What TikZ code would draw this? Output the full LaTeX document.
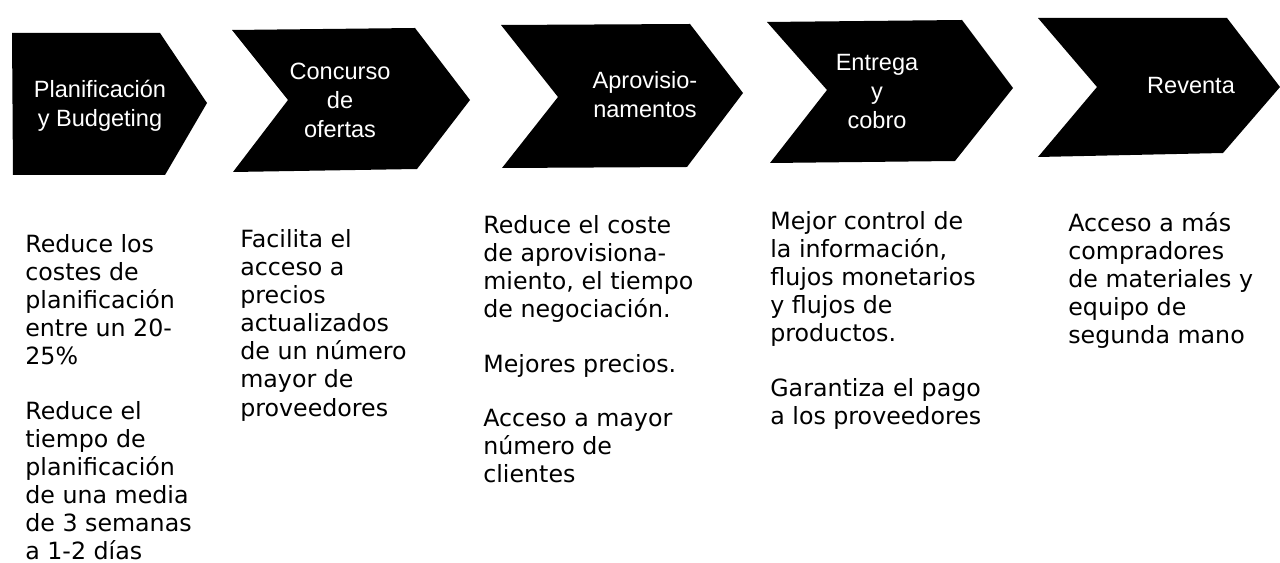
\documentclass[tikz,border=0pt]{standalone}
\usepackage{fontspec}
\setmainfont{DejaVu Sans}
\newfontfamily\chevfont{Liberation Sans}
\usepackage{tikz}
\usetikzlibrary{positioning}

\begin{document}
\begin{tikzpicture}[
  x=0.02cm, y=-0.02cm,
  chevron/.style={fill=black},
  chevtext/.style={
    text=white, align=center, inner sep=0pt,
    font=\chevfont\fontsize{13.4}{16.5}\selectfont,
  },
  benefit/.style={
    anchor=north west, align=left, inner sep=0pt,
    font=\fontsize{13.5}{16}\selectfont,
  },
]
\useasboundingbox (0,0) rectangle (1280,563);
% chevrons
\fill[chevron] (12,33) -- (160,33) -- (207,103) -- (165,175) -- (13,175) -- cycle;
\fill[chevron] (232,30) -- (415,28) -- (470,100) -- (417,169) -- (233,172) -- (288,100) -- cycle;
\fill[chevron] (501,25) -- (690,24) -- (743,93) -- (687,167) -- (502,168) -- (558,97) -- cycle;
\fill[chevron] (767,22) -- (962,20) -- (1013,88) -- (955,161) -- (770,163) -- (827,90) -- cycle;
\fill[chevron] (1038,18) -- (1227,18) -- (1280,87) -- (1223,153) -- (1038,157) -- (1097,87) -- cycle;
% stage labels
\node[chevtext] (plan) at (100,106) {Planificación\\y Budgeting};
\node[chevtext] (concurso) at (340,100) {Concurso\\de\\ofertas};
\node[chevtext] (aprov) at (645,95) {Aprovisio-\\namentos};
\node[chevtext] (entrega) at (877,92) {Entrega\\y\\cobro};
\node[chevtext] (reventa) at (1191,86) {Reventa};
% benefits
\node[benefit] (planben) at (25,234) {Reduce los\\costes de\\planificación\\entre un 20-\\25\%\\[15pt]
  Reduce el\\tiempo de\\planificación\\de una media\\de 3 semanas\\a 1-2 días};
\node[benefit] (concben) at (240,229) {Facilita el\\acceso a\\precios\\actualizados\\de un número\\mayor de\\proveedores};
\node[benefit] (aprovben) at (483,215) {Reduce el coste\\de aprovisiona-\\miento, el tiempo\\de negociación.\\[15pt]
  Mejores precios.\\[15pt]Acceso a mayor\\número de\\clientes};
\node[benefit] (entben) at (770,211) {Mejor control de\\la información,\\flujos monetarios\\y flujos de\\productos.\\[15pt]
  Garantiza el pago\\a los proveedores};
\node[benefit] (revben) at (1068,212) {Acceso a más\\compradores\\de materiales y\\equipo de\\segunda mano};
\end{tikzpicture}
\end{document}
